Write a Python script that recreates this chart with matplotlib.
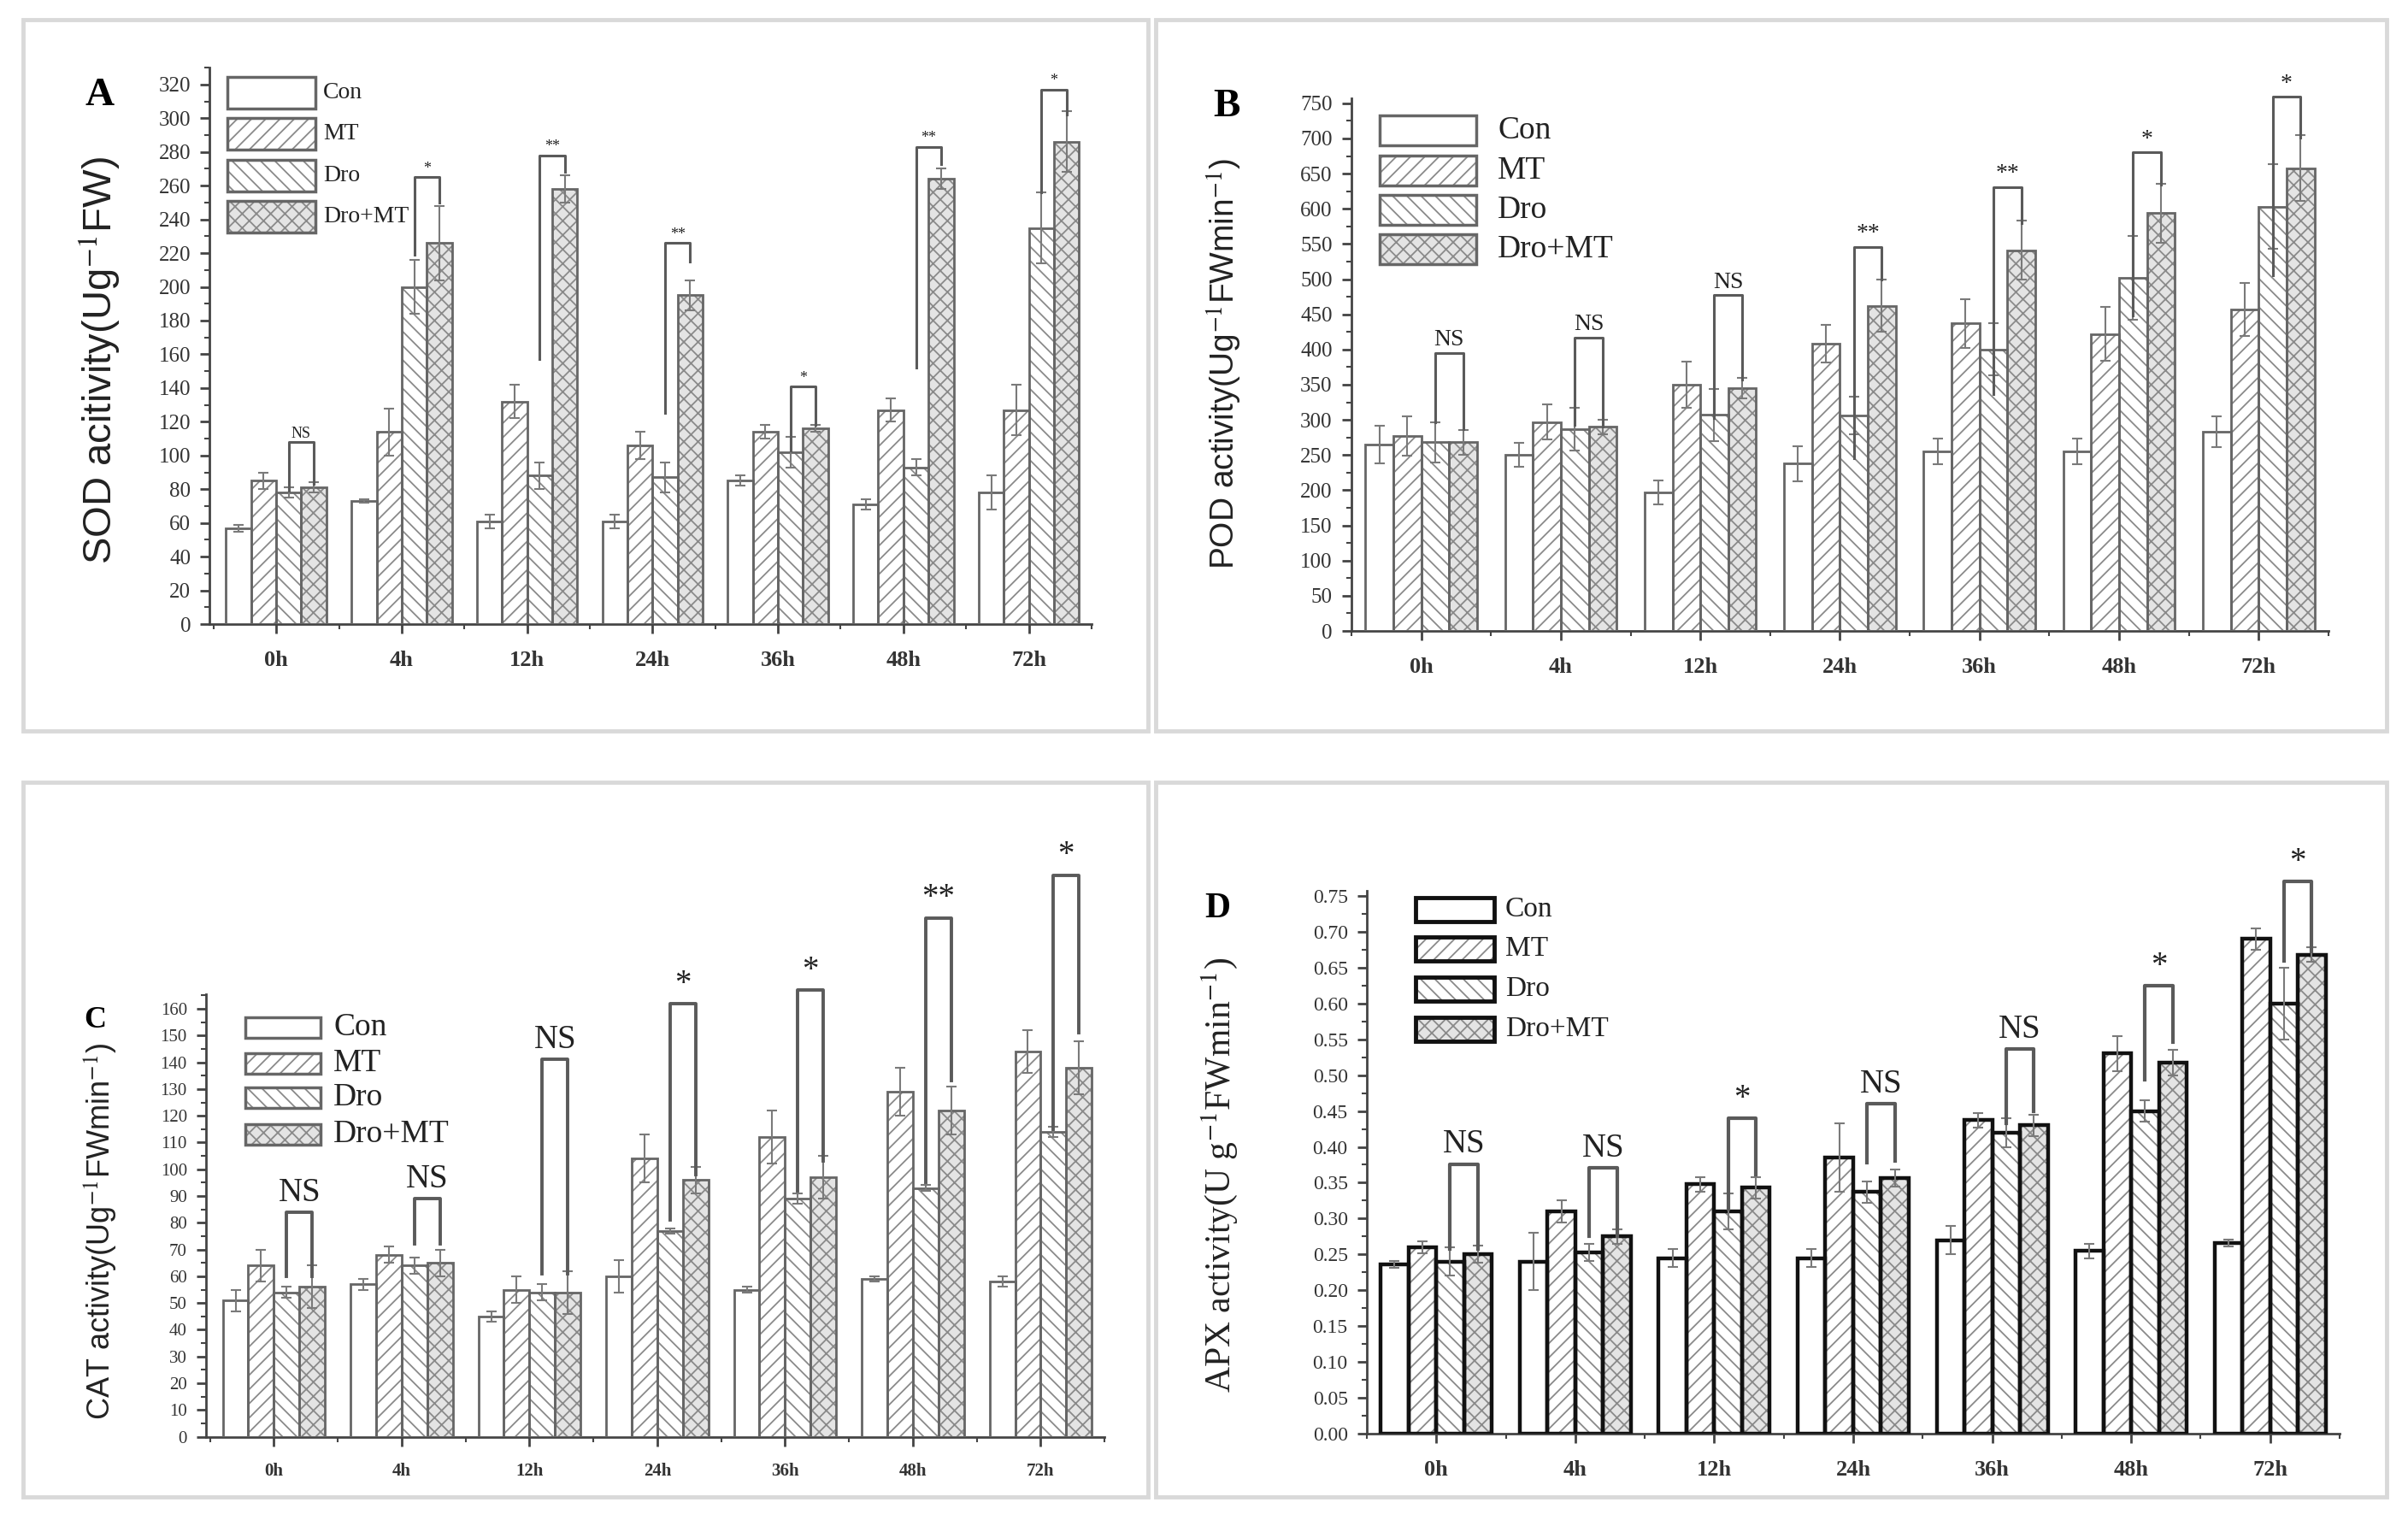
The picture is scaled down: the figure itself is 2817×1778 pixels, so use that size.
import numpy as np
import matplotlib.pyplot as plt
from matplotlib.patches import Rectangle
from matplotlib.ticker import MultipleLocator, FormatStrFormatter

W, H = 2817, 1778

times = ['0h', '4h', '12h', '24h', '36h', '48h', '72h']
groups = ['Con', 'MT', 'Dro', 'Dro+MT']

# A  SOD
sod_con = [57, 73, 61, 61, 85, 71, 78]
sod_con_err = [2, 1, 4, 4, 3, 3, 10]
sod_mt = [85, 114, 132, 106, 114, 127, 127]
sod_mt_err = [5, 14, 10, 8, 4, 7, 15]
sod_dro = [78, 200, 88, 87, 102, 93, 235]
sod_dro_err = [3, 16, 8, 9, 9, 5, 21]
sod_dm = [81, 226, 258, 195, 116, 264, 286]
sod_dm_err = [3, 22, 8, 9, 2, 6, 18]
sod_sig = ['NS', '*', '**', '**', '*', '**', '*']
sod_brk_top = [108, 265, 278, 226, 141, 283, 317]
sod_brk_left = [79, 219, 157, 125, 103, 152, 256]
sod_brk_right = [83, 250, 268, 215, 118, 273, 302]

# B  POD
pod_con = [265, 250, 197, 238, 255, 255, 283]
pod_con_err = [27, 17, 17, 25, 18, 18, 22]
pod_mt = [277, 297, 350, 408, 437, 422, 457]
pod_mt_err = [28, 25, 33, 27, 35, 38, 38]
pod_dro = [268, 287, 307, 306, 400, 502, 603]
pod_dro_err = [28, 30, 37, 27, 37, 60, 60]
pod_dm = [268, 290, 345, 462, 541, 594, 658]
pod_dm_err = [18, 10, 15, 37, 42, 42, 47]
pod_sig = ['NS', 'NS', 'NS', '**', '**', '*', '*']
pod_brk_top = [395, 417, 477, 546, 631, 680, 759]
pod_brk_left = [297, 293, 303, 246, 337, 449, 506]
pod_brk_right = [287, 290, 357, 499, 580, 634, 701]

# C  CAT
cat_con = [51, 57, 45, 60, 55, 59, 58]
cat_con_err = [4, 2, 2, 6, 1, 1, 2]
cat_mt = [64, 68, 55, 104, 112, 129, 144]
cat_mt_err = [6, 3, 5, 9, 10, 9, 8]
cat_dro = [54, 64, 54, 77, 89, 93, 114]
cat_dro_err = [2, 3, 3, 1, 2, 1, 2]
cat_dm = [56, 65, 54, 96, 97, 122, 138]
cat_dm_err = [8, 5, 8, 5, 8, 9, 10]
cat_sig = ['NS', 'NS', 'NS', '*', '*', '**', '*']
cat_brk_top = [84, 89, 141, 162, 167, 194, 210]
cat_brk_left = [60, 72, 61, 81, 92, 95, 115]
cat_brk_right = [60, 72, 61, 98, 103, 133, 151]

# D  APX
apx_con = [0.236, 0.240, 0.245, 0.245, 0.270, 0.255, 0.266]
apx_con_err = [0.005, 0.040, 0.013, 0.013, 0.020, 0.010, 0.005]
apx_mt = [0.260, 0.310, 0.348, 0.385, 0.437, 0.530, 0.690]
apx_mt_err = [0.008, 0.015, 0.010, 0.048, 0.010, 0.025, 0.015]
apx_dro = [0.240, 0.253, 0.310, 0.337, 0.420, 0.450, 0.600]
apx_dro_err = [0.020, 0.012, 0.025, 0.015, 0.020, 0.015, 0.050]
apx_dm = [0.250, 0.275, 0.343, 0.356, 0.430, 0.517, 0.668]
apx_dm_err = [0.012, 0.010, 0.015, 0.012, 0.015, 0.018, 0.010]
apx_sig = ['NS', 'NS', '*', 'NS', 'NS', '*', '*']
apx_brk_top = [0.376, 0.371, 0.440, 0.460, 0.536, 0.625, 0.770]
apx_brk_left = [0.258, 0.275, 0.313, 0.378, 0.433, 0.494, 0.659]
apx_brk_right = [0.258, 0.275, 0.361, 0.380, 0.450, 0.546, 0.673]

plt.rcParams['font.family'] = ['Liberation Serif', 'DejaVu Serif']
plt.rcParams['hatch.linewidth'] = 1.3
plt.rcParams['mathtext.fontset'] = 'stix'

fig = plt.figure(figsize=(W / 100, H / 100), dpi=100)
fig.patch.set_facecolor('white')

hatches = ['', '//', '\\\\', 'xx']
faces = ['white', 'white', 'white', '#e4e4e4']
hatch_col = '#8a8a8a'


def fx(x):
    return x / W


def fy(y):
    return 1 - y / H


def panel(rect, vals, errs, sig, top, left, right, xlim, ylim, major, minor, fmt,
          edge, elw, tick_fs, xtick_fs, sig_fs, sig_gap, brk_lw):
    ax = fig.add_axes(rect)
    x = np.arange(len(times))
    w = 0.2
    for i in range(4):
        xs = x + (i - 1.5) * w
        ax.bar(xs, vals[i], w, color=faces[i], edgecolor=hatch_col, linewidth=0,
               hatch=hatches[i], zorder=2)
        ax.bar(xs, vals[i], w, fill=False, edgecolor=edge, linewidth=elw, zorder=3)
        ax.errorbar(xs, vals[i], yerr=errs[i], fmt='none', ecolor='#7a7a7a',
                    elinewidth=1.5, capsize=4, capthick=1.5, zorder=4)
    xd = x + 0.5 * w
    xm = x + 1.5 * w
    for j in range(len(times)):
        ax.plot([xd[j], xd[j], xm[j], xm[j]], [left[j], top[j], top[j], right[j]],
                color='#5a5a5a', lw=brk_lw, clip_on=False, zorder=5)
        ax.annotate(sig[j], xy=((xd[j] + xm[j]) / 2, top[j]), xytext=(0, sig_gap),
                    textcoords='offset points', ha='center', va='bottom',
                    fontsize=sig_fs, color='#222222', annotation_clip=False)
    ax.set_xlim(*xlim)
    ax.set_ylim(*ylim)
    ax.spines[['top', 'right']].set_visible(False)
    for s in ['left', 'bottom']:
        ax.spines[s].set_color('#444444')
        ax.spines[s].set_linewidth(2)
    ax.set_xticks(x)
    ax.set_xticklabels(times, fontweight='bold', fontsize=xtick_fs, color='#333333')
    ax.set_xticks(np.append(x - 0.5, x[-1] + 0.5), minor=True)
    ax.yaxis.set_major_locator(MultipleLocator(major))
    ax.yaxis.set_minor_locator(MultipleLocator(minor))
    ax.yaxis.set_major_formatter(FormatStrFormatter(fmt))
    ax.tick_params(which='major', direction='out', length=8, width=2, color='#444444')
    ax.tick_params(which='minor', direction='out', length=4, width=1.5, color='#444444')
    ax.tick_params(axis='y', labelsize=tick_fs, labelcolor='#333333', pad=8)
    ax.tick_params(axis='x', pad=14)
    return ax


def legend(x0, tops, bw, bh, tx, fs, edge, elw):
    for i, g in enumerate(groups):
        r1 = Rectangle((fx(x0), fy(tops[i] + bh)), bw / W, bh / H, transform=fig.transFigure,
                       facecolor=faces[i], edgecolor=hatch_col, linewidth=0, hatch=hatches[i])
        r2 = Rectangle((fx(x0), fy(tops[i] + bh)), bw / W, bh / H, transform=fig.transFigure,
                       fill=False, edgecolor=edge, linewidth=elw)
        fig.add_artist(r1)
        fig.add_artist(r2)
        fig.text(fx(tx), fy(tops[i] + bh / 2), g, fontsize=fs, ha='left', va='center',
                 color='#222222')


# panel frames
for (x0, y0, x1, y1) in [(27, 23, 1343, 855), (1352, 23, 2792, 855),
                         (27, 915, 1343, 1751), (1352, 915, 2792, 1751)]:
    fig.add_artist(Rectangle((fx(x0), fy(y1)), (x1 - x0) / W, (y1 - y0) / H,
                             transform=fig.transFigure, fill=False,
                             edgecolor='#d9d9d9', linewidth=3.5))

# A
panel([0.0871, 0.5894, 0.3662, 0.3661],
      [sod_con, sod_mt, sod_dro, sod_dm], [sod_con_err, sod_mt_err, sod_dro_err, sod_dm_err],
      sod_sig, sod_brk_top, sod_brk_left, sod_brk_right,
      (-0.53, 6.5), (0, 330), 20, 10, '%d', '#666666', 2, 18, 19, 13, 1, 2.2)
legend(266, [90, 138, 187, 235], 103, 37, 378, 20, '#666666', 2.5)
fig.text(fx(117), fy(112), 'A', fontsize=34, fontweight='bold', ha='center', va='center')
fig.text(fx(116), fy(422), 'SOD acitivity(Ug$^{-1}$FW)', rotation=90, ha='center', va='center',
         fontsize=34, family=['Liberation Sans', 'DejaVu Sans'], color='#222222')

# B
panel([0.5612, 0.5849, 0.4058, 0.3504],
      [pod_con, pod_mt, pod_dro, pod_dm], [pod_con_err, pod_mt_err, pod_dro_err, pod_dm_err],
      pod_sig, pod_brk_top, pod_brk_left, pod_brk_right,
      (-0.49, 6.47), (0, 757), 50, 25, '%d', '#666666', 2, 18, 19, 20, 2, 2.2)
legend(1614, [135, 182, 228, 274], 113, 35, 1752, 27, '#666666', 2.5)
fig.text(fx(1435), fy(125), 'B', fontsize=34, fontweight='bold', ha='center', va='center')
fig.text(fx(1432), fy(425), 'POD activity(Ug$^{-1}$FWmin$^{-1}$)', rotation=90, ha='center',
         va='center', fontsize=28, family=['Liberation Sans', 'DejaVu Sans'], color='#222222')

# C
panel([0.0856, 0.0548, 0.3731, 0.2912],
      [cat_con, cat_mt, cat_dro, cat_dm], [cat_con_err, cat_mt_err, cat_dro_err, cat_dm_err],
      cat_sig, cat_brk_top, cat_brk_left, cat_brk_right,
      (-0.53, 6.42), (0, 165.5), 10, 5, '%d', '#666666', 2, 15, 15, 28, 3, 2.8)
legend(287, [1190, 1232, 1272, 1315], 88, 24, 390, 27, '#666666', 2.5)
fig.text(fx(111), fy(1193), 'C', fontsize=26, fontweight='bold', ha='center', va='center')
fig.text(fx(116), fy(1440), 'CAT activity(Ug$^{-1}$FWmin$^{-1}$)', rotation=90, ha='center',
         va='center', fontsize=26, family=['Liberation Sans', 'DejaVu Sans'], color='#222222')

# D
panel([0.5676, 0.0568, 0.4040, 0.3571],
      [apx_con, apx_mt, apx_dro, apx_dm], [apx_con_err, apx_mt_err, apx_dro_err, apx_dm_err],
      apx_sig, apx_brk_top, apx_brk_left, apx_brk_right,
      (-0.5, 6.47), (0, 0.757), 0.05, 0.025, '%.2f', '#111111', 3.2, 17, 19, 28, 3, 3)
legend(1656, [1050, 1096, 1143, 1190], 92, 28, 1761, 24, '#111111', 3.5)
fig.text(fx(1424), fy(1063), 'D', fontsize=30, fontweight='bold', ha='center', va='center')
fig.text(fx(1427), fy(1374), 'APX activity(U g$^{-1}$FWmin$^{-1}$)', rotation=90, ha='center',
         va='center', fontsize=30, color='#222222')

fig.savefig('out.png', dpi=100, facecolor='white')
